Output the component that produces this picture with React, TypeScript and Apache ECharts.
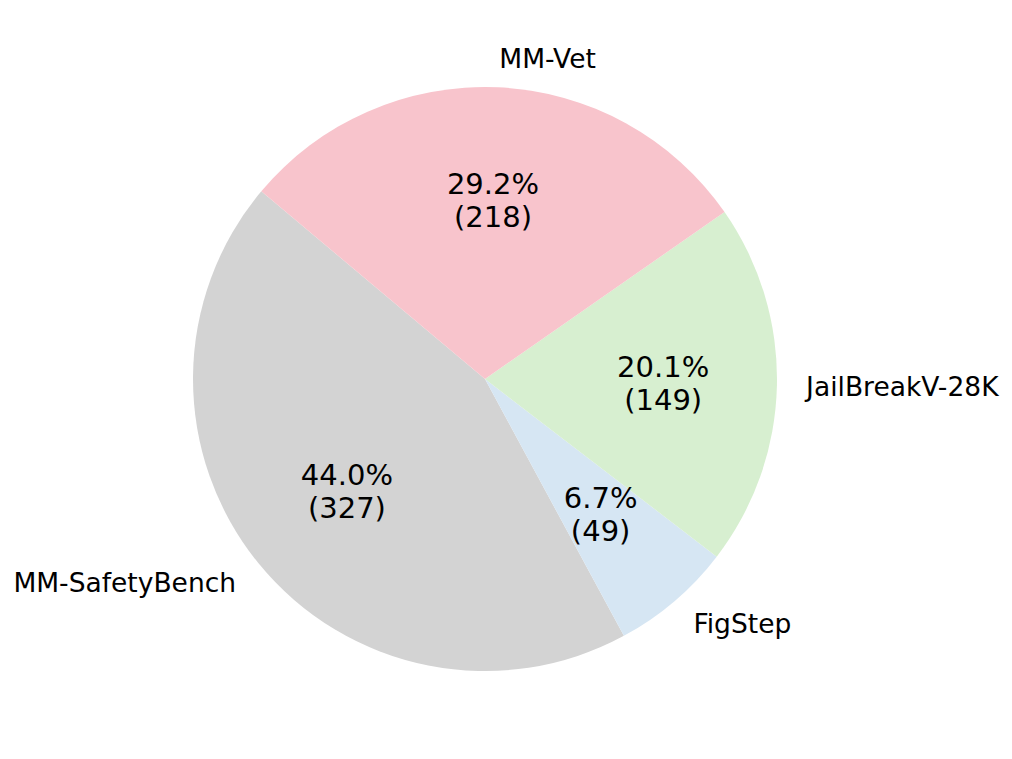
import React, { useEffect, useRef } from "react";
import * as echarts from "echarts";

const categories = ["MM-SafetyBench", "FigStep", "JailBreakV-28K", "MM-Vet"];
const percents = [44.0, 6.7, 20.1, 29.2];
const counts = [327, 49, 149, 218];
const colors = ["#d3d3d3", "#d6e6f3", "#d7efd0", "#f8c4cc"];

export default function App() {
  const ref = useRef<HTMLDivElement>(null);
  useEffect(() => {
    const chart = echarts.init(ref.current!, null, { renderer: "svg" });
    const R = 292;
    const center = [485, 379];
    const font = "DejaVu Sans";
    chart.setOption({
      animation: false,
      backgroundColor: "#ffffff",
      series: [
        {
          type: "pie",
          center,
          radius: [0, R],
          startAngle: 140,
          clockwise: false,
          avoidLabelOverlap: false,
          silent: true,
          itemStyle: { borderWidth: 0 },
          label: {
            show: true,
            position: "outside",
            formatter: "{b}",
            fontSize: 26.5,
            color: "#000000",
            fontFamily: font,
            distanceToLabelLine: 0,
          },
          labelLine: { show: false, length: R * 0.1, length2: 0 },
          data: categories.map((name, i) => ({
            name,
            value: percents[i],
            itemStyle: { color: colors[i] },
          })),
        },
        {
          type: "pie",
          center,
          radius: [R * 0.2, R],
          startAngle: 140,
          clockwise: false,
          avoidLabelOverlap: false,
          silent: true,
          itemStyle: { color: "transparent", borderWidth: 0 },
          label: {
            show: true,
            position: "inside",
            formatter: (p: any) =>
              `${percents[p.dataIndex].toFixed(1)}%\n(${counts[p.dataIndex]})`,
            fontSize: 29,
            lineHeight: 33,
            color: "#000000",
            fontFamily: font,
          },
          labelLine: { show: false },
          data: categories.map((name, i) => ({ name, value: percents[i] })),
        },
      ],
    });
    return () => chart.dispose();
  }, []);
  return (
    <div
      ref={ref}
      style={{ position: "fixed", left: 0, top: 0, width: 1012, height: 759 }}
    />
  );
}
